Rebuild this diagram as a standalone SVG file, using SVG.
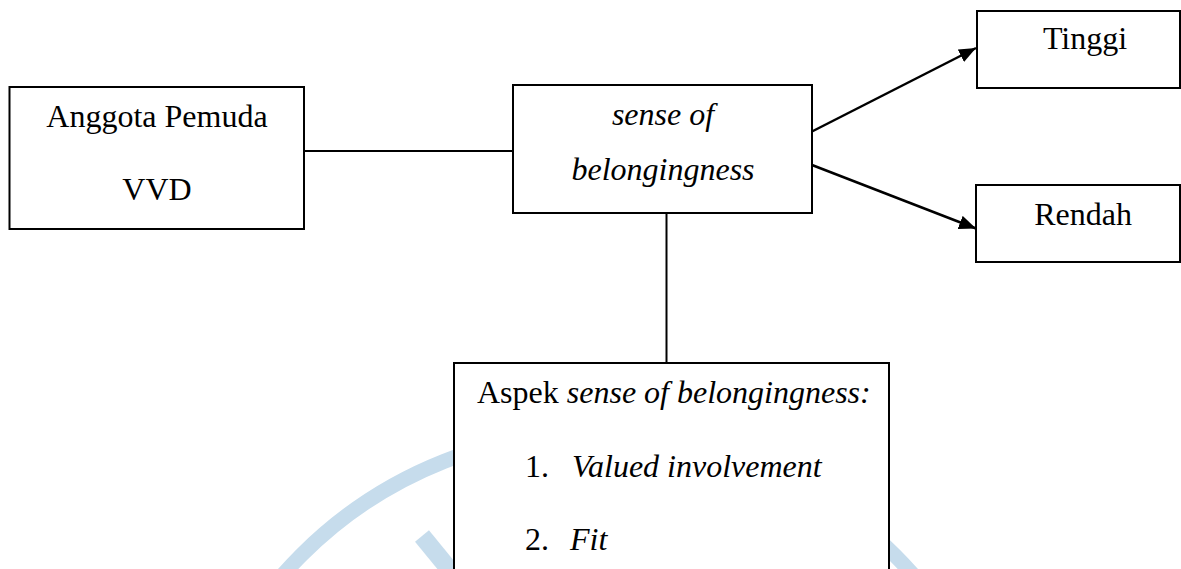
<svg xmlns="http://www.w3.org/2000/svg" width="1181" height="569" viewBox="0 0 1181 569">
<style>
.box{fill:#fff;stroke:#000;stroke-width:2}
.t{font-family:"Liberation Serif","Times New Roman",serif;font-size:32px;fill:#000}
.c{text-anchor:middle}
.i{font-style:italic}
.ln{stroke:#000;stroke-width:2;fill:none}
.ar{stroke:#000;stroke-width:2.5;fill:none}
.wm{stroke:#c6dcec;fill:none}
</style>
<defs>
<marker id="ah" markerUnits="userSpaceOnUse" markerWidth="18" markerHeight="14" refX="17" refY="7" orient="auto">
<path d="M0,0 L17,7 L0,14 Z" fill="#000"/>
</marker>
</defs>
<rect width="1181" height="569" fill="#fff"/>
<g id="watermark">
<circle class="wm" cx="598" cy="851" r="419" stroke-width="15"/>
<line class="wm" x1="422" y1="536" x2="458" y2="580" stroke-width="18"/>
</g>
<g id="connectors">
<line class="ln" x1="304" y1="151" x2="513" y2="151"/>
<line class="ln" x1="666.5" y1="213" x2="666.5" y2="363"/>
<line class="ar" x1="812" y1="131.5" x2="976" y2="48" marker-end="url(#ah)"/>
<line class="ar" x1="812" y1="165" x2="976" y2="228.5" marker-end="url(#ah)"/>
</g>
<g id="anggota">
<rect class="box" x="9.5" y="87" width="294.5" height="142"/>
<text class="t c" x="157" y="127">Anggota Pemuda</text>
<text class="t c" x="157" y="200">VVD</text>
</g>
<g id="sense">
<rect class="box" x="513" y="85" width="299" height="128"/>
<text class="t c i" x="663" y="125">sense of</text>
<text class="t c i" x="663" y="180">belongingness</text>
</g>
<g id="tinggi">
<rect class="box" x="977" y="11" width="203" height="77"/>
<text class="t c" x="1085" y="49">Tinggi</text>
</g>
<g id="rendah">
<rect class="box" x="976" y="185" width="204" height="77"/>
<text class="t c" x="1083" y="225">Rendah</text>
</g>
<g id="aspek">
<rect class="box" x="454" y="363" width="435" height="220"/>
<text class="t" x="477" y="403">Aspek <tspan class="i">sense of belongingness:</tspan></text>
<text class="t" x="525" y="477">1.</text>
<text class="t i" x="572" y="477">Valued involvement</text>
<text class="t" x="525" y="550">2.</text>
<text class="t i" x="570" y="550">Fit</text>
</g>
</svg>
